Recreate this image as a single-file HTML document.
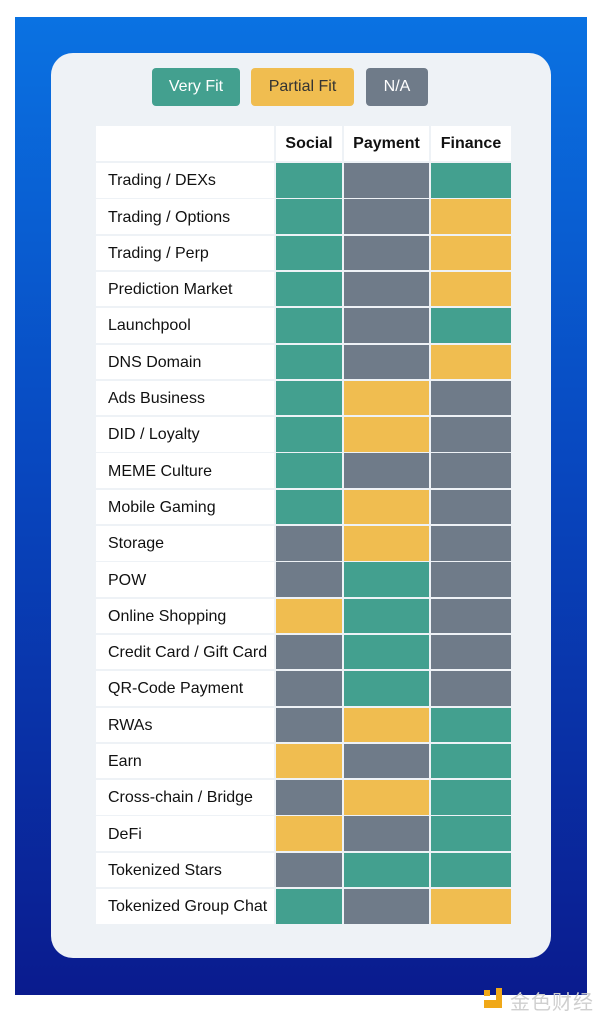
<!DOCTYPE html>
<html><head><meta charset="utf-8"><style>
*{margin:0;padding:0;box-sizing:border-box}
body{width:600px;height:1020px;background:#fff;position:relative;overflow:hidden;font-family:"Liberation Sans","Noto Sans CJK SC",sans-serif}
.panel{position:absolute;left:15px;top:17px;width:572px;height:978px;background:linear-gradient(180deg,#0a72e2 0%,#0848c0 45%,#0a1b8e 100%)}
.card{position:absolute;left:51px;top:53px;width:500px;height:905px;background:#eef2f6;border-radius:22px}
.btn{position:absolute;top:68px;height:38px;border-radius:4px;font-size:16px;line-height:38px;text-align:center}
.c{position:absolute}
.lab{background:#fff;font-size:16px;color:#111;padding-left:12px;display:flex;align-items:center;white-space:nowrap;padding-top:2px}
.hd{background:#fff;font-size:16px;font-weight:bold;color:#111;display:flex;align-items:center;justify-content:center}
.G{background:#43a08f}.X{background:#6f7b89}.Y{background:#f0bd50}
</style></head><body>
<div class="panel"></div>
<div class="card"></div>
<div class="btn G" style="left:152px;width:88px;color:#fff">Very Fit</div>
<div class="btn Y" style="left:251px;width:103px;color:#333">Partial Fit</div>
<div class="btn X" style="left:366px;width:62px;color:#fff">N/A</div>
<div id="t"></div>
<div style="position:absolute;left:484px;top:990px;width:6px;height:6px;background:#f0a818"></div>
<div style="position:absolute;left:484px;top:1000px;width:18px;height:8px;background:#f0a818"></div>
<div style="position:absolute;left:496px;top:988px;width:6px;height:14px;background:#f0a818"></div>
<div style="position:absolute;left:510px;top:986px;font-size:20px;color:#cfcfcf;font-family:'Noto Sans CJK SC',sans-serif;letter-spacing:1px">金色财经</div>
<script>
var rows=[["Trading / DEXs","GXG"],["Trading / Options","GXY"],["Trading / Perp","GXY"],["Prediction Market","GXY"],["Launchpool","GXG"],["DNS Domain","GXY"],["Ads Business","GYX"],["DID / Loyalty","GYX"],["MEME Culture","GXX"],["Mobile Gaming","GYX"],["Storage","XYX"],["POW","XGX"],["Online Shopping","YGX"],["Credit Card / Gift Card","XGX"],["QR-Code Payment","XGX"],["RWAs","XYG"],["Earn","YXG"],["Cross-chain / Bridge","XYG"],["DeFi","YXG"],["Tokenized Stars","XGG"],["Tokenized Group Chat","GXY"]];
var cols=[[276,66],[344,85],[431,80]],h="";
h+='<div class="c hd" style="left:96px;top:126px;width:178px;height:35px"></div>';
["Social","Payment","Finance"].forEach(function(n,i){h+='<div class="c hd" style="left:'+cols[i][0]+'px;top:126px;width:'+cols[i][1]+'px;height:35px">'+n+'</div>';});
rows.forEach(function(r,i){var y=163+i*36.3;
h+='<div class="c lab" style="left:96px;top:'+y+'px;width:178px;height:34.5px">'+r[0]+'</div>';
for(var j=0;j<3;j++)h+='<div class="c '+r[1][j]+'" style="left:'+cols[j][0]+'px;top:'+y+'px;width:'+cols[j][1]+'px;height:34.5px"></div>';});
document.getElementById("t").innerHTML=h;
</script>
</body></html>
